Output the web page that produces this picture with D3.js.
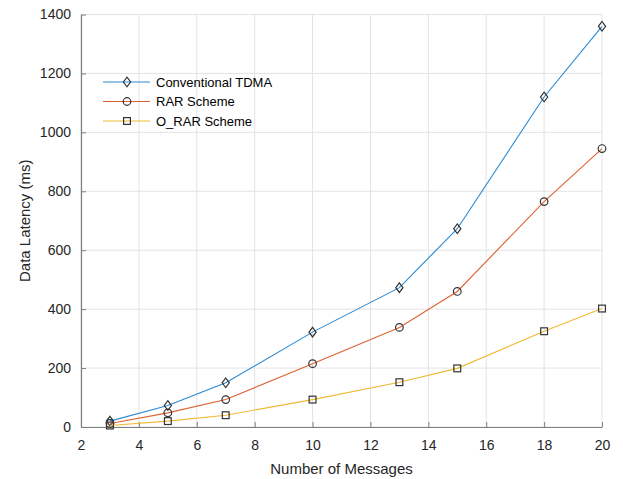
<!DOCTYPE html>
<html lang="en">
<head>
  <meta charset="UTF-8">
  <title>Data Latency</title>
  <style>
    body { margin: 0; background: #fff; }
    svg { font-family: "Liberation Sans", Arial, sans-serif; }
    .tick text { fill: #262626; font-size: 14px; }
  </style>
</head>
<body>
  <svg width="623" height="479"></svg>
  <script src="https://d3js.org/d3.v7.min.js"></script>
  <script>
    var messages = [3, 5, 7, 10, 13, 15, 18, 20];
    var tdma = [20, 73, 150, 322, 473, 673, 1120, 1360];
    var rar = [12, 48, 93, 215, 338, 460, 765, 945];
    var orar = [5, 20, 40, 93, 152, 199, 325, 402];
    var seriesNames = ["Conventional TDMA", "RAR Scheme", "O_RAR Scheme"];
    var xTicks = [2, 4, 6, 8, 10, 12, 14, 16, 18, 20];
    var yTicks = [0, 200, 400, 600, 800, 1000, 1200, 1400];

    var plotLeft = 81, plotRight = 602, plotTop = 14.5, plotBottom = 427;

    var x = d3.scaleLinear().domain([2, 20]).range([plotLeft, plotRight]);
    var y = d3.scaleLinear().domain([0, 1400]).range([plotBottom, plotTop]);

    var svg = d3.select("svg");

    // grid
    svg.append("g").selectAll("line").data(xTicks).enter().append("line")
      .attr("x1", d => x(d)).attr("x2", d => x(d))
      .attr("y1", plotTop).attr("y2", plotBottom)
      .attr("stroke", "#e3e3e3").attr("stroke-width", 1);
    svg.append("g").selectAll("line").data(yTicks).enter().append("line")
      .attr("x1", plotLeft).attr("x2", plotRight)
      .attr("y1", d => y(d)).attr("y2", d => y(d))
      .attr("stroke", "#e3e3e3").attr("stroke-width", 1);

    // axes
    svg.append("g").attr("transform", "translate(0," + plotBottom + ")")
      .call(d3.axisBottom(x).tickValues(xTicks).tickSizeInner(-5).tickSizeOuter(0).tickPadding(13));
    svg.append("g").attr("transform", "translate(" + plotLeft + ",0)")
      .call(d3.axisLeft(y).tickValues(yTicks).tickFormat(d3.format("d")).tickSizeInner(-5).tickSizeOuter(0).tickPadding(10));
    svg.selectAll(".domain").attr("stroke", "#7f7f7f").attr("stroke-width", 1.2);
    svg.selectAll(".tick line").attr("stroke", "#7f7f7f");

    svg.append("text").attr("x", (plotLeft + plotRight) / 2).attr("y", 474)
      .attr("text-anchor", "middle").attr("font-size", 15).attr("fill", "#262626")
      .text("Number of Messages");
    svg.append("text").attr("transform", "translate(30," + ((plotTop + plotBottom) / 2) + ") rotate(-90)")
      .attr("text-anchor", "middle").attr("font-size", 15).attr("fill", "#262626")
      .text("Data Latency (ms)");

    var series = [
      { name: seriesNames[0], values: tdma, color: "#2a8ad2", marker: "diamond" },
      { name: seriesNames[1], values: rar, color: "#dd6234", marker: "circle" },
      { name: seriesNames[2], values: orar, color: "#efb935", marker: "square" }
    ];

    var line = d3.line().x(d => x(d[0])).y(d => y(d[1]));

    function drawMarker(g, type, cx, cy) {
      if (type === "diamond") {
        g.append("path")
          .attr("d", "M" + cx + "," + (cy - 4.8) + "L" + (cx + 3.6) + "," + cy + "L" + cx + "," + (cy + 4.8) + "L" + (cx - 3.6) + "," + cy + "Z")
          .attr("fill", "none").attr("stroke", "#333").attr("stroke-width", 1.2);
      } else if (type === "circle") {
        g.append("circle").attr("cx", cx).attr("cy", cy).attr("r", 3.8)
          .attr("fill", "none").attr("stroke", "#333").attr("stroke-width", 1.2);
      } else {
        g.append("rect").attr("x", cx - 3.4).attr("y", cy - 3.4).attr("width", 6.8).attr("height", 6.8)
          .attr("fill", "none").attr("stroke", "#333").attr("stroke-width", 1.2);
      }
    }

    series.forEach(function(s) {
      var pts = messages.map((m, i) => [m, s.values[i]]);
      svg.append("path").datum(pts).attr("d", line)
        .attr("fill", "none").attr("stroke", s.color).attr("stroke-width", 1.1);
      var g = svg.append("g");
      pts.forEach(p => drawMarker(g, s.marker, x(p[0]), y(p[1])));
    });

    // legend
    var lg = svg.append("g");
    series.forEach(function(s, i) {
      var ly = 82 + i * 19.5;
      lg.append("line").attr("x1", 103).attr("x2", 150).attr("y1", ly).attr("y2", ly)
        .attr("stroke", s.color).attr("stroke-width", 1.1);
      drawMarker(lg, s.marker, 127, ly);
      lg.append("text").attr("x", 156).attr("y", ly + 4.5).attr("font-size", 13)
        .attr("fill", "#000").text(s.name);
    });
  </script>
</body>
</html>
